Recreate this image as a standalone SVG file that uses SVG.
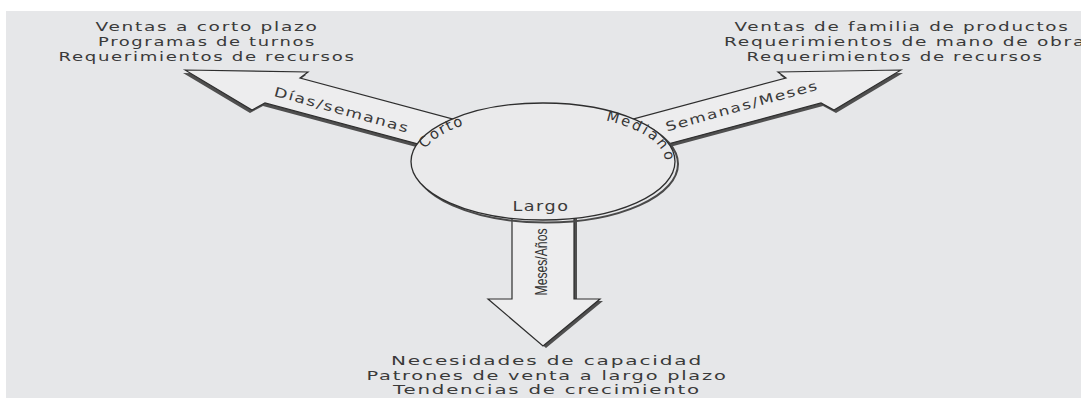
<svg xmlns="http://www.w3.org/2000/svg" xmlns:xlink="http://www.w3.org/1999/xlink" width="1081" height="398" viewBox="0 0 1081 398">
  <style>
    .t { font-family: "DejaVu Sans", "Liberation Sans", sans-serif; font-size: 13px; fill: #3a3a3a; letter-spacing: 1.2px; }
    .rim { font-family: "DejaVu Sans", "Liberation Sans", sans-serif; font-size: 14.5px; fill: #333; }
    .blk { text-anchor: middle; }
    .arrow { fill: #ededee; stroke: #2e2e2e; stroke-width: 1.2; stroke-linejoin: miter; }
    .shadow { fill: #4f4f4f; }
    .circ { fill: #eaeaeb; stroke: #2e2e2e; stroke-width: 1.3; }
    .circshadow { fill: none; stroke: #4a4a4a; stroke-width: 2; }
    .cond { font-family: "Liberation Sans", "DejaVu Sans", sans-serif; font-size: 17px; fill: #333; }
  </style>
  <defs>
    <path id="rimTop" d="M 437.3 185.5 A 122 48 0 1 1 648.7 185.5"/>
  </defs>

  <rect x="0" y="0" width="1081" height="398" fill="#ffffff"/>
  <rect x="6" y="11" width="1075" height="387" fill="#e6e7e9"/>

  <g id="connectors">
    <g id="arrow-corto">
      <polygon class="shadow" transform="translate(-2,3)" points="185,70 308,72 300,78 470,123.6 450,152.6 265,103 252,110"/>
      <polygon class="arrow" points="185,70 308,72 300,78 470,123.6 450,152.6 265,103 252,110"/>
      <text class="t" transform="translate(342,110) rotate(15.5)" x="0" y="4.5" text-anchor="middle" textLength="140" lengthAdjust="spacingAndGlyphs">Días/semanas</text>
    </g>
    <g id="arrow-mediano">
      <polygon class="shadow" transform="translate(2,3)" points="901,70 778,72 786,78 616,123.6 636,152.6 821,103 834,110"/>
      <polygon class="arrow" points="901,70 778,72 786,78 616,123.6 636,152.6 821,103 834,110"/>
      <text class="t" transform="translate(742,106) rotate(-15.5)" x="0" y="4.5" text-anchor="middle" textLength="158" lengthAdjust="spacingAndGlyphs">Semanas/Meses</text>
    </g>
    <g id="arrow-largo">
      <polygon class="shadow" transform="translate(3,2)" points="512,200 574,200 574,299 600,299 543,346 488,299 512,299"/>
      <polygon class="arrow" points="512,200 574,200 574,299 600,299 543,346 488,299 512,299"/>
      <text class="cond" transform="translate(541,262) rotate(-90)" x="0" y="6" text-anchor="middle" textLength="67" lengthAdjust="spacingAndGlyphs">Meses/Años</text>
    </g>
  </g>

  <g id="horizon-circle">
    <ellipse class="circshadow" cx="546" cy="164" rx="132" ry="58.5"/>
    <ellipse class="circ" cx="543" cy="161.5" rx="132" ry="58.5"/>
    <text class="rim" style="letter-spacing:1.6px"><textPath xlink:href="#rimTop" href="#rimTop" startOffset="67" text-anchor="middle">Corto</textPath></text>
    <text class="rim" style="letter-spacing:2.4px"><textPath xlink:href="#rimTop" href="#rimTop" startOffset="272" text-anchor="middle">Mediano</textPath></text>
    <text class="t" x="541" y="211" text-anchor="middle" textLength="57" lengthAdjust="spacingAndGlyphs" style="font-size:14px">Largo</text>
  </g>

  <g id="short-term">
    <text class="t blk" x="207" y="30.5" textLength="223" lengthAdjust="spacingAndGlyphs">Ventas a corto plazo</text>
    <text class="t blk" x="207" y="45.5" textLength="218" lengthAdjust="spacingAndGlyphs">Programas de turnos</text>
    <text class="t blk" x="207" y="60.5" textLength="297" lengthAdjust="spacingAndGlyphs">Requerimientos de recursos</text>
  </g>

  <g id="medium-term">
    <text class="t blk" x="902" y="30.5" textLength="335" lengthAdjust="spacingAndGlyphs">Ventas de familia de productos</text>
    <text class="t blk" x="905" y="45.5" textLength="362" lengthAdjust="spacingAndGlyphs">Requerimientos de mano de obra</text>
    <text class="t blk" x="895" y="60.5" textLength="297" lengthAdjust="spacingAndGlyphs">Requerimientos de recursos</text>
  </g>

  <g id="long-term">
    <text class="t blk" x="547" y="365" textLength="312" lengthAdjust="spacingAndGlyphs">Necesidades de capacidad</text>
    <text class="t blk" x="547" y="380" textLength="361" lengthAdjust="spacingAndGlyphs">Patrones de venta a largo plazo</text>
    <text class="t blk" x="547" y="394" textLength="308" lengthAdjust="spacingAndGlyphs">Tendencias de crecimiento</text>
  </g>
</svg>
